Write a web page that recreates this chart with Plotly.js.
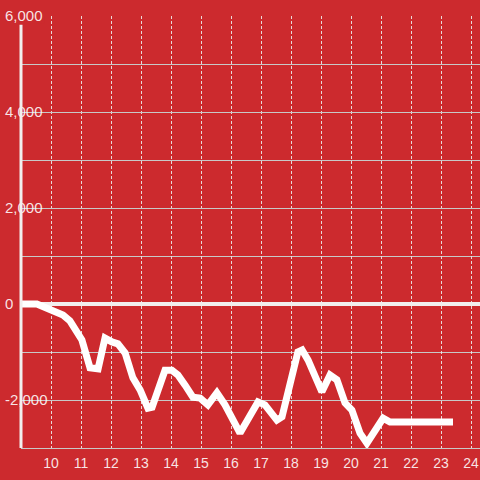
<!DOCTYPE html>
<html>
<head>
<meta charset="utf-8">
<script src="https://cdn.plot.ly/plotly-3.0.1.min.js"></script>
<style>html,body{margin:0;padding:0;background:#cc2a2e;}#chart{width:480px;height:480px;}</style>
</head>
<body>
<div id="chart"></div>
<script>
const xValues = [9.00, 9.53, 10.40, 10.63, 11.03, 11.30, 11.57, 11.80, 12.03, 12.23, 12.47, 12.73, 12.97, 13.23, 13.37, 13.53, 13.80, 14.03, 14.23, 14.47, 14.73, 14.97, 15.23, 15.53, 15.80, 16.30, 16.63, 16.90, 17.13, 17.53, 17.70, 17.97, 18.23, 18.37, 18.57, 19.03, 19.30, 19.53, 19.80, 20.03, 20.30, 20.53, 20.80, 21.07, 21.30, 23.40];
const yValues = [0, 0, -230, -350, -750, -1330, -1350, -710, -790, -830, -1020, -1540, -1790, -2170, -2150, -1900, -1380, -1380, -1480, -1690, -1940, -1960, -2100, -1850, -2100, -2690, -2350, -2040, -2100, -2420, -2350, -1730, -1000, -960, -1170, -1830, -1480, -1580, -2060, -2210, -2690, -2900, -2670, -2380, -2460, -2460];
const xTickVals = [10, 11, 12, 13, 14, 15, 16, 17, 18, 19, 20, 21, 22, 23, 24];
const xTickText = ['10', '11', '12', '13', '14', '15', '16', '17', '18', '19', '20', '21', '22', '23', '24'];
const yTickVals = [-2000, 0, 2000, 4000, 6000];
const yTickText = ['-2,000', '0', '2,000', '4,000', '6,000'];
const yMinorVals = [-3000, -1000, 1000, 3000, 5000];

const bg = '#cc2a2e';
const xFont = {family: 'Liberation Sans, Arial, sans-serif', size: 14, color: 'rgba(255,255,255,0.88)'};
const yFont = {family: 'Liberation Sans, Arial, sans-serif', size: 15, color: 'rgba(255,255,255,0.88)'};

const trace = {
  x: xValues, y: yValues, type: 'scatter', mode: 'lines',
  line: {color: '#ffffff', width: 7},
  hoverinfo: 'skip'
};

// background patches behind the y tick labels (hide the gridline under each label)
const labelPatches = yTickVals.filter(v => v !== 0).map(v => ({
  type: 'rect', xref: 'paper', yref: 'y', x0: 0.006, x1: 0.052, y0: v - 160, y1: v + 160,
  layer: 'between', fillcolor: bg, line: {width: 0}
}));

const layout = {
  width: 480, height: 480,
  paper_bgcolor: bg, plot_bgcolor: bg,
  margin: {l: 21, r: 0, t: 16, b: 32},
  showlegend: false,
  font: xFont,
  xaxis: {
    range: [9, 24.3],
    tickmode: 'array', tickvals: xTickVals, ticktext: xTickText,
    showgrid: true, gridcolor: 'rgba(235,235,235,0.9)', gridwidth: 1, griddash: '3px,2px',
    zeroline: false,
    showline: true, linecolor: '#c8c8c8', linewidth: 1,
    ticks: '', tickfont: xFont, ticklabelstandoff: 2
  },
  yaxis: {
    range: [-3000, 6000],
    tickmode: 'array', tickvals: yTickVals, ticktext: yTickText,
    side: 'right', anchor: 'free', position: 0,
    ticklabelstandoff: -17,
    showgrid: true, gridcolor: '#c8c8c8', gridwidth: 1,
    minor: {tickmode: 'array', tickvals: yMinorVals, showgrid: true, gridcolor: '#c8c8c8', gridwidth: 1, ticks: ''},
    zeroline: true, zerolinecolor: '#f2eeee', zerolinewidth: 4,
    showline: false,
    ticks: '', tickfont: yFont
  },
  shapes: labelPatches.concat([
    {type: 'line', xref: 'paper', yref: 'paper', x0: 0, x1: 0, y0: 0, y1: 0.98, layer: 'above',
     line: {color: '#f2eeee', width: 3}}
  ])
};

Plotly.newPlot('chart', [trace], layout, {staticPlot: true, displayModeBar: false});
</script>
</body>
</html>
